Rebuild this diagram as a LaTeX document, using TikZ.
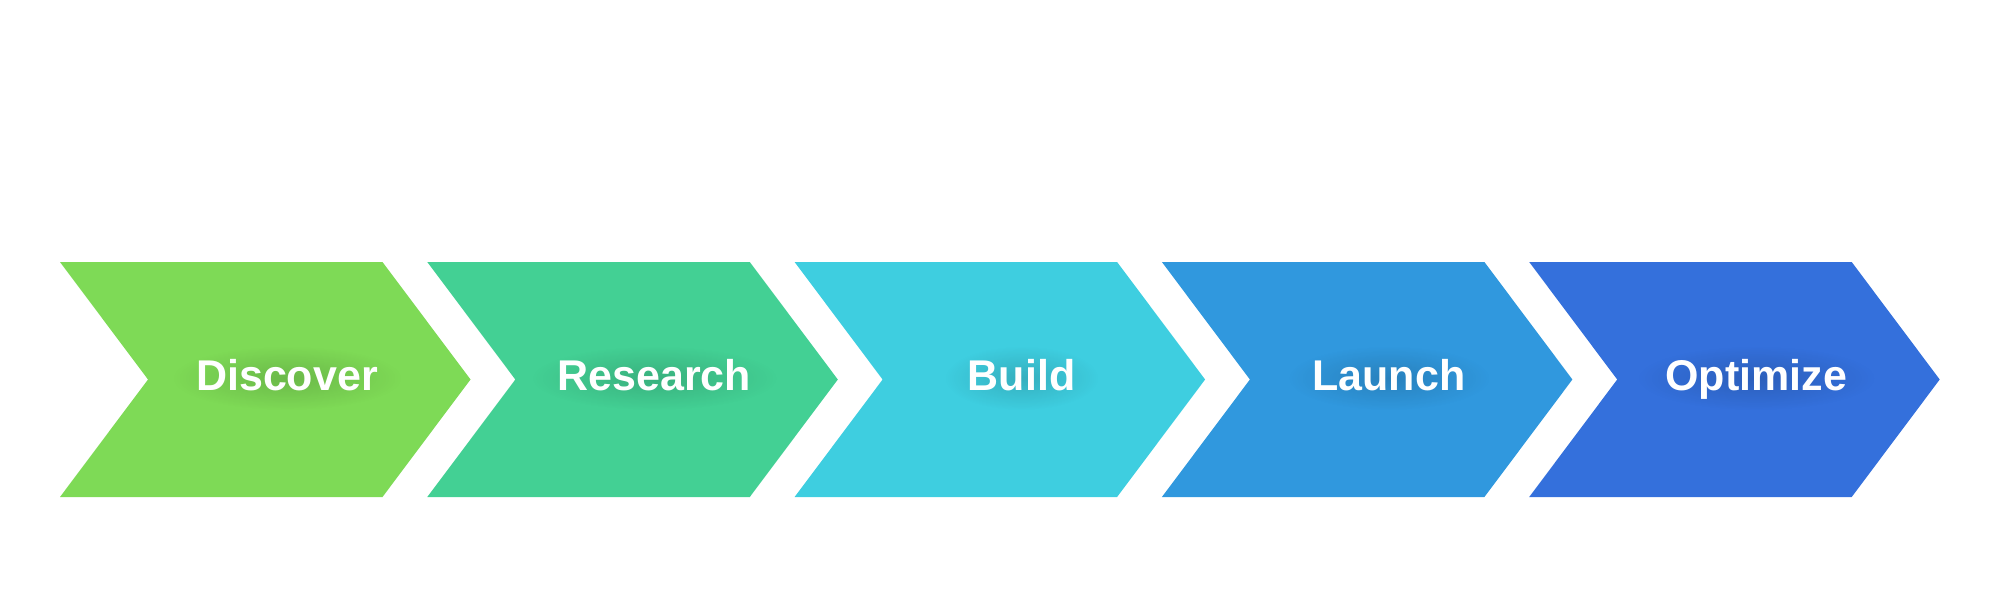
\documentclass[tikz,border=0pt]{standalone}
\usepackage{fontspec}
\setmainfont{Liberation Sans}
\usetikzlibrary{fadings}
\definecolor{discoverGreen}{HTML}{7EDA56}
\definecolor{researchGreen}{HTML}{43D094}
\definecolor{buildCyan}{HTML}{3ECEE0}
\definecolor{launchBlue}{HTML}{3098DE}
\definecolor{optimizeBlue}{HTML}{3470DC}
\tikzfading[name=glowfade, inner color=transparent!0, outer color=transparent!100]
\begin{document}
\begin{tikzpicture}[x=1pt,y=-1pt]
	\tikzstyle{Label} = [font=\fontsize{43}{50}\selectfont\bfseries, text=white, inner sep=0pt, anchor=base]
	\tikzstyle{Glow} = [fill=black, opacity=0.15, path fading=glowfade]
	
	\useasboundingbox (0,0) rectangle (2000,600);
	\foreach \i/\col/\txt/\w in {0/discoverGreen/Discover/100, 1/researchGreen/Research/108, 2/buildCyan/Build/62, 3/launchBlue/Launch/86, 4/optimizeBlue/Optimize/104} {
		\pgfmathsetmacro{\L}{60+367.3*\i}
		\fill[\col] (\L,262) -- ++(322.5,0) -- ++(88,117.5) -- ++(-88,117.5) -- ++(-322.5,0) -- ++(88,-117.5) -- cycle;
		\fill[Glow] (\L+227,378) ellipse ({\w+15} and 32);
		\node (s\i) [Label] at (\L+227,390) {\txt};
	}
\end{tikzpicture}
\end{document}
